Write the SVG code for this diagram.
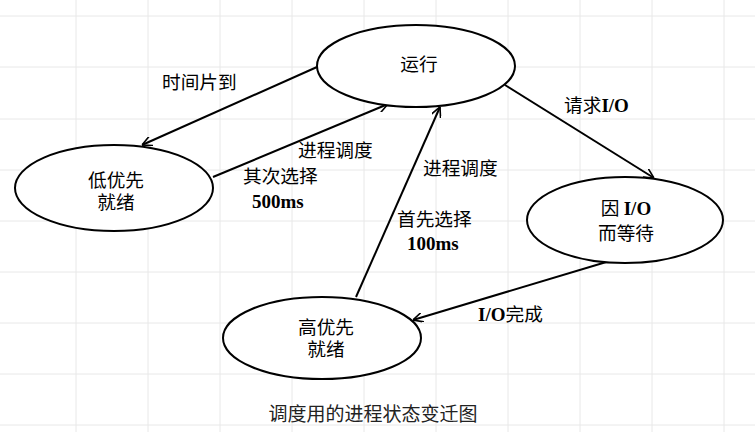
<svg xmlns="http://www.w3.org/2000/svg" width="755" height="432" viewBox="0 0 755 432">
<style>
.grid line{stroke:#e8e8e8;stroke-width:1}
.node ellipse{fill:#fff;stroke:#000;stroke-width:2}
.cn{font-family:"Noto Sans CJK SC","Noto Sans",sans-serif;font-size:18.7px;fill:#000}
.en{font-family:"Liberation Serif",serif;font-weight:bold;font-size:19px}
.edge{stroke:#000;stroke-width:2;fill:none;marker-end:url(#ah)}
.cap{font-family:"Noto Sans CJK SC",sans-serif;font-size:19px;fill:#222}
</style>
<defs>
<marker id="ah" viewBox="0 0 10 10" refX="10" refY="5" markerWidth="5" markerHeight="5" orient="auto" markerUnits="strokeWidth">
<path d="M0,0 L10,5 L0,10" fill="none" stroke="#000" stroke-width="1.6"/>
</marker>
</defs>
<rect width="755" height="432" fill="#fff"/>
<g class="grid">
<line x1="76" y1="0" x2="76" y2="432"/><line x1="148" y1="0" x2="148" y2="432"/><line x1="220" y1="0" x2="220" y2="432"/><line x1="292" y1="0" x2="292" y2="432"/><line x1="364" y1="0" x2="364" y2="432"/><line x1="436" y1="0" x2="436" y2="432"/><line x1="508" y1="0" x2="508" y2="432"/><line x1="580" y1="0" x2="580" y2="432"/><line x1="652" y1="0" x2="652" y2="432"/><line x1="724" y1="0" x2="724" y2="432"/>
<line x1="0" y1="16" x2="755" y2="16"/><line x1="0" y1="67" x2="755" y2="67"/><line x1="0" y1="119" x2="755" y2="119"/><line x1="0" y1="170" x2="755" y2="170"/><line x1="0" y1="221" x2="755" y2="221"/><line x1="0" y1="272" x2="755" y2="272"/><line x1="0" y1="323" x2="755" y2="323"/><line x1="0" y1="374" x2="755" y2="374"/><line x1="0" y1="425" x2="755" y2="425"/>
</g>
<g id="connectors">
<line class="edge" x1="317" y1="67" x2="142" y2="145"/>
<line class="edge" x1="213" y1="177" x2="388" y2="104"/>
<line class="edge" x1="356" y1="297" x2="440" y2="107"/>
<line class="edge" x1="505" y1="85" x2="654" y2="178"/>
<line class="edge" x1="613" y1="260" x2="413" y2="320"/>
</g>
<g id="run" class="node">
<ellipse cx="416" cy="66" rx="99" ry="41"/>
<text class="cn" x="419" y="71" text-anchor="middle">运行</text>
</g>
<g id="low" class="node">
<ellipse cx="114" cy="188" rx="99" ry="43"/>
<text class="cn" text-anchor="middle"><tspan x="116" y="187">低优先</tspan><tspan x="116" y="209">就绪</tspan></text>
</g>
<g id="wait" class="node">
<ellipse cx="625" cy="220" rx="98" ry="43"/>
<text x="626" y="215" text-anchor="middle"><tspan class="cn">因 </tspan><tspan class="en">I/O</tspan></text>
<text class="cn" x="626" y="240" text-anchor="middle">而等待</text>
</g>
<g id="high" class="node">
<ellipse cx="322" cy="338" rx="99" ry="41"/>
<text class="cn" text-anchor="middle"><tspan x="326" y="334">高优先</tspan><tspan x="326" y="356">就绪</tspan></text>
</g>
<g id="labels">
<text class="cn" x="162" y="89">时间片到</text>
<text class="cn" x="298" y="157">进程调度</text>
<text class="cn" x="243" y="183">其次选择</text>
<text class="en" x="252" y="208">500ms</text>
<text class="cn" x="423" y="175">进程调度</text>
<text class="cn" x="397" y="226">首先选择</text>
<text class="en" x="407" y="250">100ms</text>
<text x="564" y="112"><tspan class="cn">请求</tspan><tspan class="en">I/O</tspan></text>
<text x="478" y="321"><tspan class="en">I/O</tspan><tspan class="cn">完成</tspan></text>
<text class="cap" x="373" y="421" text-anchor="middle">调度用的进程状态变迁图</text>
</g>
</svg>
